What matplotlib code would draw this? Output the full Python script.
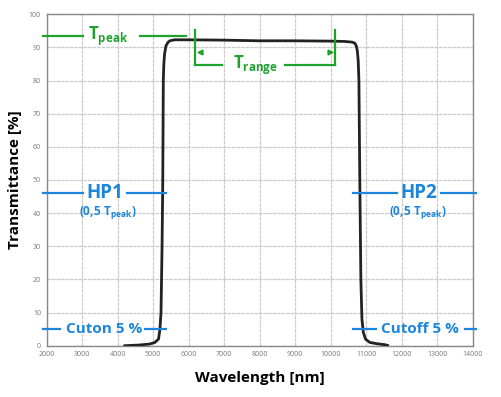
import matplotlib.pyplot as plt

plt.rcParams['font.family'] = ['Open Sans', 'DejaVu Sans']
plt.rcParams['mathtext.fontset'] = 'custom'
plt.rcParams['mathtext.rm'] = 'Open Sans'
plt.rcParams['mathtext.bf'] = 'Open Sans:bold'

# transmission curve
wavelength = [4200, 4600, 4900, 5050, 5150, 5190, 5220, 5250, 5270, 5285, 5300,
              5320, 5360, 5420, 5470, 5600, 6000, 7000, 8000, 9000, 10000,
              10400, 10600, 10680, 10720, 10750, 10775, 10795, 10820, 10850,
              10880, 10920, 10980, 11100, 11300, 11530, 11600]
transmittance = [0.0, 0.2, 0.5, 1.0, 2.0, 5.0, 10.0, 30.0, 50.0, 80.0, 85.0,
                 88.0, 90.5, 91.6, 92.0, 92.3, 92.3, 92.2, 92.0, 92.0, 91.9,
                 91.8, 91.6, 91.3, 90.5, 89.0, 86.0, 80.0, 50.0, 20.0,
                 8.0, 4.0, 2.0, 1.0, 0.6, 0.3, 0.1]

x_ticks = list(range(2000, 14001, 1000))
y_ticks = list(range(0, 101, 10))

GREEN = '#1fa22d'
BLUE = '#1c86dc'

fig = plt.figure(figsize=(5.01, 3.97), dpi=100)
ax = fig.add_axes([0.0932, 0.1292, 0.8503, 0.8348])

ax.plot(wavelength, transmittance, color='#222222', lw=2.0, zorder=5)

ax.set_xlim(2000, 14000)
ax.set_ylim(0, 100)
ax.set_xticks(x_ticks)
ax.set_yticks(y_ticks)
ax.tick_params(length=0, labelsize=5, colors='#777777', pad=4)
ax.grid(True, color='#cccccc', lw=0.9, ls=(0, (3, 0.6)))
for s in ax.spines.values():
    s.set_color('#888888')
    s.set_linewidth(1.0)

ax.set_xlabel('Wavelength [nm]', fontsize=11, fontweight='bold', labelpad=9)
ax.set_ylabel('Transmittance [%]', fontsize=11, fontweight='bold', labelpad=5)


def hline(x0, x1, y, color):
    ax.plot([x0, x1], [y, y], color=color, lw=1.6, clip_on=False, zorder=6)


# T_peak
hline(1890, 3010, 93.3, GREEN)
hline(4630, 5920, 93.3, GREEN)
ax.text(3150, 93.3, r'$\mathbf{T_{peak}}$', color=GREEN, fontsize=12,
        ha='left', va='center', zorder=7)

# T_range
ax.plot([6180, 6180], [95.2, 84.6], color=GREEN, lw=1.6, zorder=6)
ax.plot([10120, 10120], [95.2, 84.6], color=GREEN, lw=1.6, zorder=6)
hline(6180, 6950, 84.6, GREEN)
hline(8700, 10120, 84.6, GREEN)
ax.text(7250, 84.6, r'$\mathbf{T_{range}}$', color=GREEN, fontsize=12,
        ha='left', va='center', zorder=7)
ax.plot([6330], [88.7], marker='<', color=GREEN, ms=3.5, zorder=7)
ax.plot([9970], [88.7], marker='>', color=GREEN, ms=3.5, zorder=7)

# HP1 / HP2
hline(1890, 3020, 46.1, BLUE)
hline(4250, 5360, 46.1, BLUE)
ax.text(3630, 46.1, 'HP1', color=BLUE, fontsize=13.5, fontweight='bold',
        ha='center', va='center')
ax.text(3710, 40.2, r'$\mathbf{(0{,}5\ T_{peak})}$', color=BLUE, fontsize=8.5,
        ha='center', va='center')

hline(10620, 11870, 46.1, BLUE)
hline(13100, 14100, 46.1, BLUE)
ax.text(12480, 46.1, 'HP2', color=BLUE, fontsize=13.5, fontweight='bold',
        ha='center', va='center')
ax.text(12440, 40.2, r'$\mathbf{(0{,}5\ T_{peak})}$', color=BLUE, fontsize=8.5,
        ha='center', va='center')

# Cuton / Cutoff
hline(1890, 2380, 5.0, BLUE)
hline(4760, 5360, 5.0, BLUE)
ax.text(3630, 5.0, 'Cuton 5 %', color=BLUE, fontsize=11, fontweight='bold',
        ha='center', va='center')

hline(10620, 11290, 5.0, BLUE)
hline(13780, 14100, 5.0, BLUE)
ax.text(12510, 5.0, 'Cutoff 5 %', color=BLUE, fontsize=11, fontweight='bold',
        ha='center', va='center')

fig.savefig('out.png', dpi=100)
